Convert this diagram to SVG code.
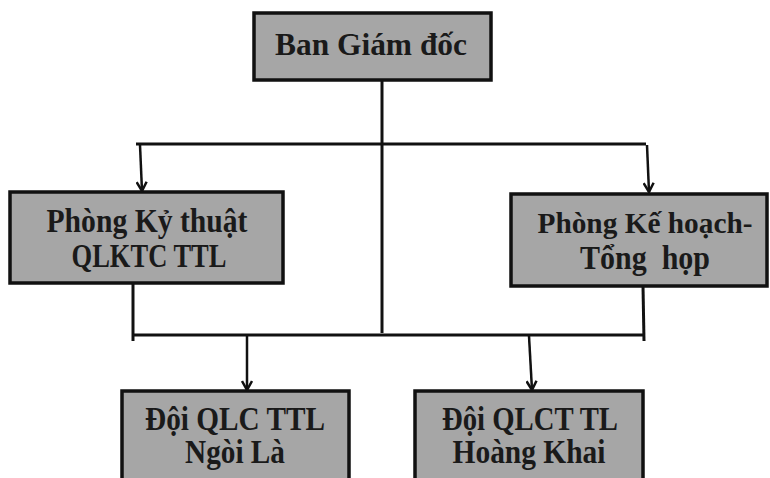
<svg xmlns="http://www.w3.org/2000/svg" width="770" height="478" viewBox="0 0 770 478">
<style>
.box{fill:#a6a6a6;stroke:#111;stroke-width:3.5}
.t{font-family:"Liberation Serif","Times New Roman",serif;font-weight:bold;fill:#1a1a1a;text-anchor:middle}
.ln{stroke:#111;stroke-width:3;fill:none}
.ar{stroke:#111;stroke-width:2.5;fill:none}
</style>
<defs>
<marker id="ah" viewBox="0 0 12 12" refX="10" refY="6" markerWidth="12" markerHeight="12" markerUnits="userSpaceOnUse" orient="auto">
<polyline points="1,1 10,6 1,11" fill="none" stroke="#111" stroke-width="2.5"/>
</marker>
</defs>
<rect width="770" height="478" fill="#fff"/>
<g id="connectors">
<line class="ln" x1="382" y1="80" x2="382" y2="333"/>
<line class="ln" x1="136" y1="144" x2="646" y2="144"/>
<line class="ar" x1="140" y1="145" x2="142" y2="191" marker-end="url(#ah)"/>
<line class="ar" x1="647" y1="145" x2="649" y2="192" marker-end="url(#ah)"/>
<line class="ln" x1="133" y1="283" x2="133" y2="341"/>
<line class="ln" x1="643" y1="286" x2="644" y2="341"/>
<line class="ln" x1="132" y1="335" x2="643" y2="335"/>
<line class="ar" x1="247" y1="336" x2="247" y2="390" marker-end="url(#ah)"/>
<line class="ar" x1="529" y1="336" x2="532" y2="390" marker-end="url(#ah)"/>
</g>
<g id="ban-giam-doc">
<rect class="box" x="254" y="13" width="237" height="67"/>
<text class="t" x="371" y="55" font-size="31" textLength="192" lengthAdjust="spacingAndGlyphs">Ban Giám đốc</text>
</g>
<g id="phong-ky-thuat">
<rect class="box" x="10" y="192" width="273" height="91"/>
<text class="t" x="147" y="232" font-size="33" textLength="201" lengthAdjust="spacingAndGlyphs">Phòng Kỷ thuật</text>
<text class="t" x="149" y="267" font-size="33" textLength="155" lengthAdjust="spacingAndGlyphs">QLKTC TTL</text>
</g>
<g id="phong-ke-hoach">
<rect class="box" x="511" y="194" width="256" height="92"/>
<text class="t" x="645" y="233" font-size="30" textLength="215" lengthAdjust="spacingAndGlyphs">Phòng Kế hoạch-</text>
<text class="t" x="645" y="269" font-size="33" textLength="130" lengthAdjust="spacingAndGlyphs" xml:space="preserve">Tổng  họp</text>
</g>
<g id="doi-ngoi-la">
<rect class="box" x="122" y="391" width="227" height="100"/>
<text class="t" x="235" y="430" font-size="33" textLength="180" lengthAdjust="spacingAndGlyphs">Đội QLC TTL</text>
<text class="t" x="235" y="463" font-size="33" textLength="100" lengthAdjust="spacingAndGlyphs">Ngòi Là</text>
</g>
<g id="doi-hoang-khai">
<rect class="box" x="415" y="391" width="228" height="100"/>
<text class="t" x="530" y="430" font-size="33" textLength="176" lengthAdjust="spacingAndGlyphs">Đội QLCT TL</text>
<text class="t" x="529" y="463" font-size="33" textLength="153" lengthAdjust="spacingAndGlyphs">Hoàng Khai</text>
</g>
</svg>
